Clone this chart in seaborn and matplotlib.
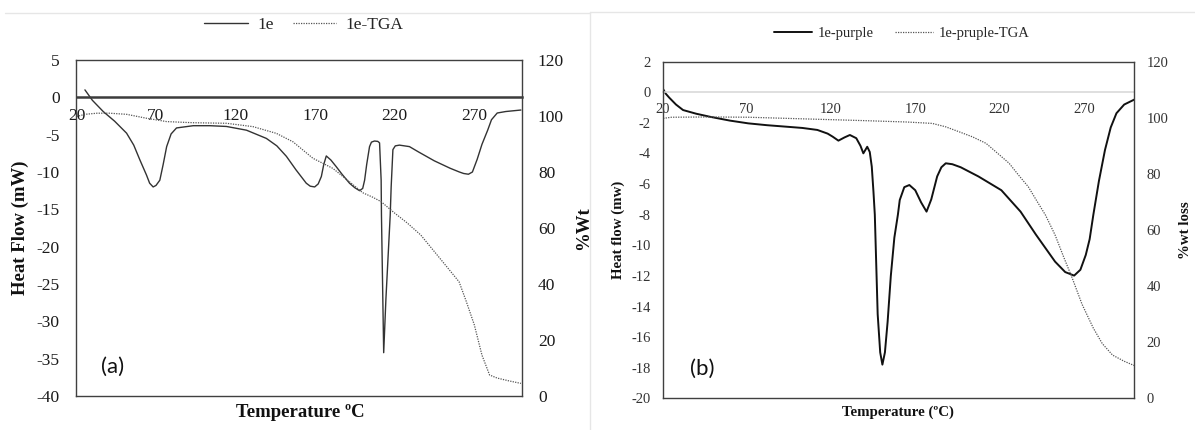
import matplotlib
matplotlib.use("Agg")
import matplotlib.pyplot as plt
import seaborn as sns
from matplotlib.lines import Line2D

# ---------------- data: panel (a) ----------------
temp_a = [25.3, 30, 36.8, 44, 51.5, 56, 59.9, 64, 66, 68.2, 70, 72.4, 74.5, 76.7, 79.5, 82.9,
          93.4, 104, 114.3, 126.9, 139.4, 146, 152, 158, 164.5, 167, 169.8, 172, 174, 175.5,
          177.1, 180, 183.4, 187, 191.7, 195, 198, 200, 201.2, 202.5, 204.3, 205.5, 207.4,
          209.5, 210.6, 211.6, 211.8, 213.2, 214.6, 217.3, 217.9, 219, 220.5, 223.1, 229.4,
          235, 240, 245, 250, 255, 260.8, 263.5, 266.5, 269, 272, 275, 278.6, 281, 284.6,
          290, 299.5]
dsc_a = [1.0, -0.4, -1.9, -3.2, -4.8, -6.4, -8.4, -10.4, -11.5, -12.0, -11.8, -11.1, -9.0,
         -6.6, -4.9, -4.1, -3.8, -3.8, -3.9, -4.4, -5.5, -6.5, -7.9, -9.7, -11.5, -11.9,
         -12.0, -11.6, -10.6, -9.0, -7.85, -8.4, -9.3, -10.3, -11.5, -12.1, -12.5, -12.2,
         -11.1, -9.0, -6.6, -6.0, -5.85, -5.9, -6.1, -11.1, -15.8, -34.2, -27.0, -15.8,
         -12.0, -7.0, -6.5, -6.4, -6.6, -7.3, -7.9, -8.5, -9.0, -9.5, -10.0, -10.2, -10.3,
         -10.0, -8.3, -6.3, -4.4, -3.0, -2.1, -1.9, -1.7]
tga_temp_a = [20, 25.3, 33, 40.7, 51.5, 64, 76.7, 93.4, 114.3, 131, 145.7, 156.1, 168.7,
              181.2, 191.7, 200, 206.3, 211.6, 219.7, 228, 236.5, 248.5, 260.6, 265, 270.2,
              275, 279.8, 284.6, 292, 299.5]
tga_a = [99.8, 100.6, 101, 101, 100.6, 99.2, 98, 97.6, 97.4, 96.2, 93.8, 90.8, 84.9, 81.3,
         76.5, 72.6, 71, 69.4, 65.5, 61.8, 57.5, 49.2, 40.8, 34.0, 25.4, 14.6, 7.5, 6.4,
         5.4, 4.5]

# ---------------- data: panel (b) ----------------
temp_b = [20.4, 22, 24, 28, 32.2, 40, 48.2, 60, 70.9, 82, 93.7, 103, 111.9, 118, 121, 124.4,
          128, 131.2, 135, 137.5, 139.2, 141.5, 143, 144.2, 145.2, 146, 147.7, 149.2, 150.5,
          152, 153.6, 155.5, 157.6, 159.7, 160.8, 163.5, 166.5, 170, 173.5, 176.7, 179.5,
          183, 185.5, 188.1, 192, 197, 207.5, 221.1, 232.5, 241.6, 253, 259, 264.3, 268,
          271.2, 273.5, 275.7, 279, 282.6, 286, 289.4, 294, 300.3]
dsc_b = [0.2, -0.1, -0.35, -0.8, -1.16, -1.4, -1.6, -1.85, -2.03, -2.15, -2.25, -2.33, -2.46,
         -2.7, -2.9, -3.16, -2.95, -2.79, -3.0, -3.5, -3.99, -3.56, -3.9, -4.86, -6.5, -8.0,
         -14.5, -17.0, -17.8, -17.0, -15.0, -12.0, -9.5, -8.0, -7.04, -6.2, -6.06, -6.4,
         -7.2, -7.8, -7.0, -5.5, -4.9, -4.64, -4.7, -4.9, -5.5, -6.4, -7.8, -9.3, -11.07,
         -11.75, -11.98, -11.6, -10.63, -9.6, -8.0, -5.8, -3.77, -2.3, -1.37, -0.8, -0.46]
tga_temp_b = [20.4, 25.4, 48.2, 70.9, 105, 139.2, 165, 180.1, 188, 196.1, 204, 212, 218,
              225.7, 231, 237.1, 242, 247.3, 253, 258, 263.2, 269, 275.7, 281, 287.1, 294,
              300.3]
tga_b = [99.8, 100.2, 100.3, 100.2, 99.6, 99, 98.5, 98, 96.8, 95, 93.2, 90.9, 87.8, 83.8,
         79.8, 75.4, 70.5, 65.3, 58.2, 50.5, 42.8, 33.5, 25, 19.5, 15.4, 13.2, 11.6]

x_ticks = [20, 70, 120, 170, 220, 270]
legend_a = ["1e", "1e-TGA"]
legend_b = ["1e-purple", "1e-pruple-TGA"]

# ---------------- style ----------------
sns.set_theme(style="white")
plt.rcParams["font.family"] = ["Liberation Serif", "DejaVu Serif"]
plt.rcParams["axes.unicode_minus"] = False

W, H = 1195, 430
fig = plt.figure(figsize=(W / 100, H / 100), dpi=100)
fig.patch.set_facecolor("white")

frame_c = "#404040"
dot_ls = (0, (1, 1))

# panel borders
fig.add_artist(Line2D([5 / W, 590 / W], [1 - 13 / H, 1 - 13 / H], color="#e6e6e6", lw=1))
fig.add_artist(Line2D([590 / W, 1.0], [1 - 12 / H, 1 - 12 / H], color="#e6e6e6", lw=1))
fig.add_artist(Line2D([590 / W, 590 / W], [0, 1 - 12 / H], color="#e6e6e6", lw=1))


def panel(rect, t, d, tt, g, ylim, yticks, fs, lab_fs, dsc_color, dsc_lw, zero_color,
          zero_lw, xpad, ypadl, ypadr, ylab, ylab_x, y2lab, y2lab_x, xlab, xlab_xy,
          tag, tag_xy, leg_labels, leg_xy, leg_fs, hl, htp, cs, tick_color):
    ax = fig.add_axes(rect)
    axr = ax.twinx()
    sns.lineplot(x=t, y=d, ax=ax, estimator=None, sort=False, color=dsc_color,
                 lw=dsc_lw, legend=False)
    sns.lineplot(x=tt, y=g, ax=axr, estimator=None, sort=False, color="#555555",
                 lw=0.9, linestyle=dot_ls, legend=False)
    ax.set_xlim(20, 300)
    ax.set_ylim(*ylim)
    ax.set_yticks(yticks)
    ax.set_xticks(x_ticks)
    axr.set_ylim(0, 120)
    axr.set_yticks(range(0, 121, 20))
    for s in ["top", "left", "right"]:
        ax.spines[s].set_visible(False)
    ax.spines["bottom"].set_position(("data", 0))
    ax.spines["bottom"].set_color(zero_color)
    ax.spines["bottom"].set_linewidth(zero_lw)
    for s in ["top", "left", "right", "bottom"]:
        axr.spines[s].set_visible(True)
        axr.spines[s].set_color(frame_c)
        axr.spines[s].set_linewidth(1.0)
    ax.tick_params(axis="x", length=0, pad=xpad, labelsize=fs, labelcolor=tick_color)
    ax.tick_params(axis="y", length=0, pad=ypadl, labelsize=fs, labelcolor=tick_color)
    axr.tick_params(axis="y", length=0, pad=ypadr, labelsize=fs, labelcolor=tick_color)
    ax.set_ylabel(ylab, fontsize=lab_fs, fontweight="bold", va="center", color="#111111")
    ax.yaxis.set_label_coords(ylab_x, 0.5)
    axr.set_ylabel(y2lab, fontsize=lab_fs, fontweight="bold", va="center",
                   rotation=90, color="#111111")
    axr.yaxis.set_label_coords(y2lab_x, 0.5)
    ax.set_xlabel(xlab, fontsize=lab_fs, fontweight="bold", va="center", color="#111111")
    ax.xaxis.set_label_coords(*xlab_xy)
    ax.text(tag_xy[0], tag_xy[1], tag, transform=ax.transAxes, ha="center", va="center",
            fontsize=16, family=["Lato", "DejaVu Sans"], color="#111111")
    handles = [Line2D([], [], color=dsc_color, lw=dsc_lw),
               Line2D([], [], color="#555555", lw=0.9, linestyle=dot_ls)]
    fig.legend(handles, leg_labels, loc="center", bbox_to_anchor=leg_xy, ncol=2,
               frameon=False, fontsize=leg_fs, handlelength=hl, handletextpad=htp,
               columnspacing=cs, borderaxespad=0, borderpad=0)
    return ax, axr


panel([76.5 / W, 34 / H, 445.2 / W, 336 / H], temp_a, dsc_a, tga_temp_a, tga_a,
      (-40, 5), list(range(-40, 6, 5)), 12.5, 13.5, "#333333", 1.0, "#3c3c3c", 1.8,
      7.5, 12, 11.7, "Heat Flow (mW)", -0.127, "%Wt", 1.14, "Temperature ºC",
      (0.502, -0.048), "(a)", (0.082, 0.086), legend_a, (304 / W, 1 - 25 / H), 12.5,
      2.5, 0.55, 1.1, "#1a1a1a")

panel([662.5 / W, 31.7 / H, 471.8 / W, 336.6 / H], temp_b, dsc_b, tga_temp_b, tga_b,
      (-20, 2), list(range(-20, 3, 2)), 10.5, 10.7, "#111111", 1.4, "#d9d9d9", 1.2,
      7.5, 8.6, 9, "Heat flow (mw)", -0.094, "%wt loss", 1.1075, "Temperature (ºC)",
      (0.499, -0.041), "(b)", (0.084, 0.087), legend_b, (902 / W, 1 - 33 / H), 10.5,
      2.6, 0.4, 1.45, "#333333")

fig.savefig("out.png", dpi=100, facecolor="white")
